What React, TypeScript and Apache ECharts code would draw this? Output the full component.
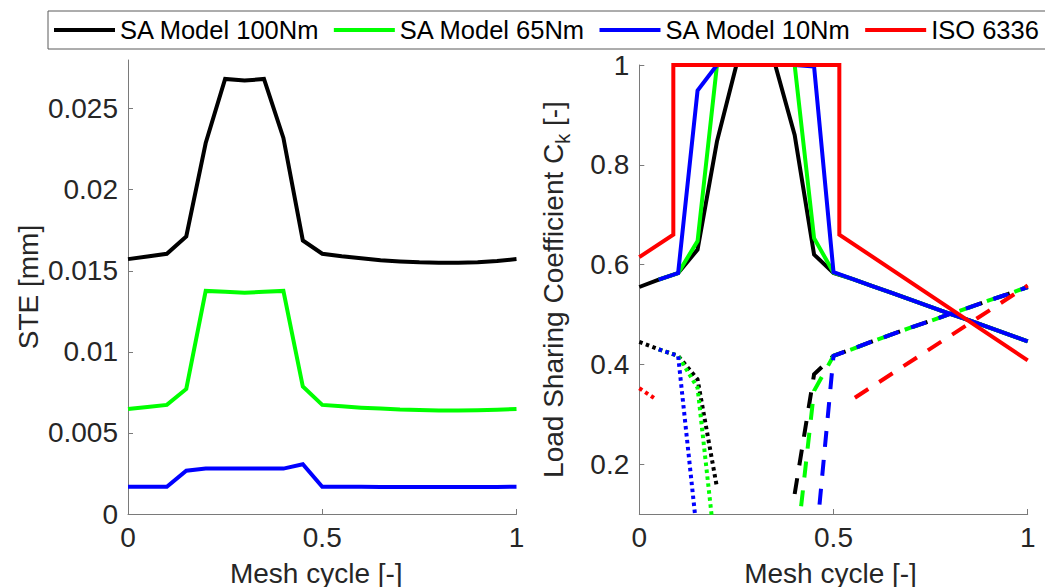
import React, { useEffect, useRef } from 'react';
import * as echarts from 'echarts';

// ---------- data ----------
const meshX = [0, 0.05, 0.1, 0.15, 0.2, 0.25, 0.3, 0.35, 0.4, 0.45, 0.5, 0.55, 0.6, 0.65, 0.7, 0.75, 0.8, 0.85, 0.9, 0.95, 1];

// Static transmission error [mm]
const steBlack = [0.01572, 0.01588, 0.01605, 0.01712, 0.02288, 0.02683, 0.02673, 0.02683, 0.02319, 0.01687, 0.01605, 0.0159, 0.01578, 0.01565, 0.01558, 0.01552, 0.0155, 0.0155, 0.01553, 0.0156, 0.01572];
const steGreen = [0.00648, 0.0066, 0.00673, 0.00771, 0.01376, 0.0137, 0.01365, 0.0137, 0.01376, 0.00786, 0.00673, 0.00664, 0.00656, 0.0065, 0.00644, 0.00641, 0.00639, 0.00639, 0.0064, 0.00643, 0.00648];
const steBlue = [0.00168, 0.00168, 0.00168, 0.00267, 0.0028, 0.0028, 0.0028, 0.0028, 0.0028, 0.00307, 0.00168, 0.00168, 0.00168, 0.00167, 0.00167, 0.00167, 0.00167, 0.00167, 0.00167, 0.00167, 0.00168];

// Load sharing coefficient: tooth pair in mesh (solid)
const ckBlackSolid = [0.555, 0.57, 0.583, 0.63, 0.847, 1, 1, 1, 0.86, 0.62, 0.583, 0.571, 0.557, 0.543, 0.529, 0.515, 0.501, 0.488, 0.474, 0.46, 0.446];
const ckGreenSolidX = [0.05, 0.1, 0.15, 0.2, 0.25, 0.3, 0.35, 0.4, 0.45, 0.5, 0.55, 0.6, 0.65, 0.7, 0.75, 0.8, 0.85, 0.9, 0.95, 1];
const ckGreenSolid = [0.57, 0.583, 0.647, 1, 1, 1, 1, 1, 0.653, 0.584, 0.571, 0.557, 0.543, 0.529, 0.515, 0.501, 0.488, 0.474, 0.46, 0.446];
const ckBlueSolidX = [0.05, 0.1, 0.15, 0.2, 0.25, 0.3, 0.35, 0.4, 0.45, 0.5, 0.55, 0.6, 0.65, 0.7, 0.75, 0.8, 0.85, 0.9, 0.95, 1];
const ckBlueSolid = [0.57, 0.583, 0.949, 1, 1, 1, 1, 1, 0.997, 0.585, 0.571, 0.557, 0.543, 0.529, 0.515, 0.501, 0.488, 0.474, 0.46, 0.446];

// leaving tooth pair (dotted)
const ckBlackDottedX = [0, 0.05, 0.1, 0.15, 0.2];
const ckBlackDotted = [0.445, 0.43, 0.417, 0.37, 0.153];
const ckGreenDottedX = [0.05, 0.1, 0.15, 0.2];
const ckGreenDotted = [0.43, 0.417, 0.353, 0];
const ckBlueDottedX = [0.05, 0.1, 0.15];
const ckBlueDotted = [0.43, 0.417, 0.051];

// entering tooth pair (dashed)
const ckBlackDashedX = [0.4, 0.45, 0.5, 0.55, 0.6, 0.65, 0.7, 0.75, 0.8, 0.85, 0.9, 0.95, 1];
const ckBlackDashed = [0.14, 0.38, 0.417, 0.431, 0.446, 0.46, 0.474, 0.487, 0.501, 0.514, 0.528, 0.541, 0.555];
const ckGreenDashedX = [0.4, 0.45, 0.5, 0.55, 0.6, 0.65, 0.7, 0.75, 0.8, 0.85, 0.9, 0.95, 1];
const ckGreenDashed = [0, 0.347, 0.417, 0.431, 0.446, 0.46, 0.474, 0.487, 0.501, 0.514, 0.528, 0.541, 0.555];
const ckBlueDashedX = [0.45, 0.5, 0.55, 0.6, 0.65, 0.7, 0.75, 0.8, 0.85, 0.9, 0.95, 1];
const ckBlueDashed = [0.003, 0.417, 0.431, 0.446, 0.46, 0.474, 0.487, 0.501, 0.514, 0.528, 0.541, 0.555];

// ISO 6336
const isoSolidX = [0, 0.0876, 0.0876, 0.515, 0.515, 1];
const isoSolid = [0.615, 0.66, 1, 1, 0.66, 0.408];
const isoDottedX = [0, 0.043];
const isoDotted = [0.352, 0.33];
const isoDashedX = [0.555, 1];
const isoDashed = [0.333, 0.558];

const legendNames = ['SA Model 100Nm', 'SA Model 65Nm', 'SA Model 10Nm', 'ISO 6336'];
const meshTicks = [0, 0.5, 1];
const steTicks = [0, 0.005, 0.01, 0.015, 0.02, 0.025];
const ckTicks = [0.2, 0.4, 0.6, 0.8, 1];

// ---------- styling ----------
const FONT = "'Liberation Sans', Arial, Helvetica, sans-serif";
const AXIS_COLOR = '#7a7a7a';
const TEXT_COLOR = '#262626';
const BLACK = '#000000';
const GREEN = '#00ff00';
const BLUE = '#0000ff';
const RED = '#ff0000';
const LW = 4;
const DASH = [16, 13];
const DOT = [3.5, 3.5];

const zip = (xs: number[], ys: number[]) => xs.map((x, i) => [x, ys[i]]);
const fmt = (v: number) => String(parseFloat(Number(v).toFixed(4)));

function line(name: string, axis: number, xs: number[], ys: number[], color: string, dash: any, z: number) {
  return {
    type: 'line',
    name,
    xAxisIndex: axis,
    yAxisIndex: axis,
    data: zip(xs, ys),
    symbol: 'none',
    showSymbol: false,
    clip: true,
    z,
    lineStyle: { color, width: LW, type: dash, cap: 'butt', join: 'miter' },
    itemStyle: { color },
    emphasis: { disabled: true },
  };
}

function xAxis(grid: number) {
  return {
    gridIndex: grid,
    type: 'value',
    min: 0,
    max: 1,
    interval: 0.5,
    axisLine: { show: true, onZero: false, lineStyle: { color: AXIS_COLOR, width: 1 } },
    axisTick: { show: true, inside: true, length: 5, customValues: meshTicks, lineStyle: { color: AXIS_COLOR } },
    axisLabel: { customValues: meshTicks, fontSize: 28, color: TEXT_COLOR, fontFamily: FONT, margin: 9, formatter: fmt },
    splitLine: { show: false },
    name: 'Mesh cycle [-]',
    nameLocation: 'middle',
    nameGap: 45,
    nameTextStyle: { fontSize: 28, color: TEXT_COLOR, fontFamily: FONT, padding: [0, grid === 0 ? 12 : 6, 0, 0] },
  };
}

const option: any = {
  animation: false,
  backgroundColor: '#ffffff',
  textStyle: { fontFamily: FONT },
  legend: {
    show: true,
    data: legendNames,
    left: 48,
    top: 11,
    width: 1010,
    orient: 'horizontal',
    padding: [4, 12, 4, 6],
    icon: 'rect',
    itemWidth: 61,
    itemHeight: 4,
    itemGap: 14,
    borderColor: '#5a5a5a',
    borderWidth: 1,
    backgroundColor: '#ffffff',
    selectedMode: false,
    textStyle: { fontSize: 25.5, lineHeight: 30, color: '#000000', fontFamily: FONT },
  },
  grid: [
    { left: 128, top: 60, width: 388.5, height: 454, containLabel: false, outerBoundsMode: 'none' },
    { left: 639.3, top: 65, width: 388.4, height: 449, containLabel: false, outerBoundsMode: 'none' },
  ],
  xAxis: [xAxis(0), xAxis(1)],
  yAxis: [
    {
      gridIndex: 0,
      type: 'value',
      min: 0,
      max: 0.028,
      axisLine: { show: true, onZero: false, lineStyle: { color: AXIS_COLOR, width: 1 } },
      axisTick: { show: true, inside: true, length: 5, customValues: steTicks, lineStyle: { color: AXIS_COLOR } },
      axisLabel: { customValues: steTicks, fontSize: 28, color: TEXT_COLOR, fontFamily: FONT, margin: 10, formatter: fmt },
      splitLine: { show: false },
      name: 'STE [mm]',
      nameLocation: 'middle',
      nameRotate: 90,
      nameGap: 86,
      nameTextStyle: { fontSize: 28, color: TEXT_COLOR, fontFamily: FONT },
    },
    {
      gridIndex: 1,
      type: 'value',
      min: 0.1,
      max: 1,
      axisLine: { show: true, onZero: false, lineStyle: { color: AXIS_COLOR, width: 1 } },
      axisTick: { show: true, inside: true, length: 5, customValues: ckTicks, lineStyle: { color: AXIS_COLOR } },
      axisLabel: { customValues: ckTicks, fontSize: 28, color: TEXT_COLOR, fontFamily: FONT, margin: 10, formatter: fmt },
      splitLine: { show: false },
      name: 'Load Sharing Coefficient C{sub|k} [-]',
      nameLocation: 'middle',
      nameRotate: 90,
      nameGap: 66,
      nameTextStyle: {
        fontSize: 28,
        color: TEXT_COLOR,
        fontFamily: FONT,
        lineHeight: 40,
        rich: {
          sub: { fontSize: 20, color: TEXT_COLOR, fontFamily: FONT, verticalAlign: 'bottom', lineHeight: 40, height: 20 },
        },
      },
    },
  ],
  series: [
    // left: STE
    line('SA Model 100Nm', 0, meshX, steBlack, BLACK, 'solid', 2),
    line('SA Model 65Nm', 0, meshX, steGreen, GREEN, 'solid', 3),
    line('SA Model 10Nm', 0, meshX, steBlue, BLUE, 'solid', 4),
    // right: load sharing
    line('SA Model 100Nm', 1, meshX, ckBlackSolid, BLACK, 'solid', 2),
    line('100Nm leaving', 1, ckBlackDottedX, ckBlackDotted, BLACK, DOT, 2),
    line('100Nm entering', 1, ckBlackDashedX, ckBlackDashed, BLACK, DASH, 2),
    line('SA Model 65Nm', 1, ckGreenSolidX, ckGreenSolid, GREEN, 'solid', 3),
    line('65Nm leaving', 1, ckGreenDottedX, ckGreenDotted, GREEN, DOT, 3),
    line('65Nm entering', 1, ckGreenDashedX, ckGreenDashed, GREEN, DASH, 3),
    line('SA Model 10Nm', 1, ckBlueSolidX, ckBlueSolid, BLUE, 'solid', 4),
    line('10Nm leaving', 1, ckBlueDottedX, ckBlueDotted, BLUE, DOT, 4),
    line('10Nm entering', 1, ckBlueDashedX, ckBlueDashed, BLUE, DASH, 4),
    line('ISO 6336', 1, isoSolidX, isoSolid, RED, 'solid', 5),
    line('ISO leaving', 1, isoDottedX, isoDotted, RED, DOT, 5),
    line('ISO entering', 1, isoDashedX, isoDashed, RED, DASH, 5),
  ],
};

export default function App() {
  const ref = useRef<HTMLDivElement>(null);
  useEffect(() => {
    if (!ref.current) return;
    const chart = echarts.init(ref.current, null, { renderer: 'svg' });
    chart.setOption(option);
    return () => chart.dispose();
  }, []);
  return <div ref={ref} style={{ position: 'absolute', left: 0, top: 0, width: 1045, height: 587 }} />;
}
